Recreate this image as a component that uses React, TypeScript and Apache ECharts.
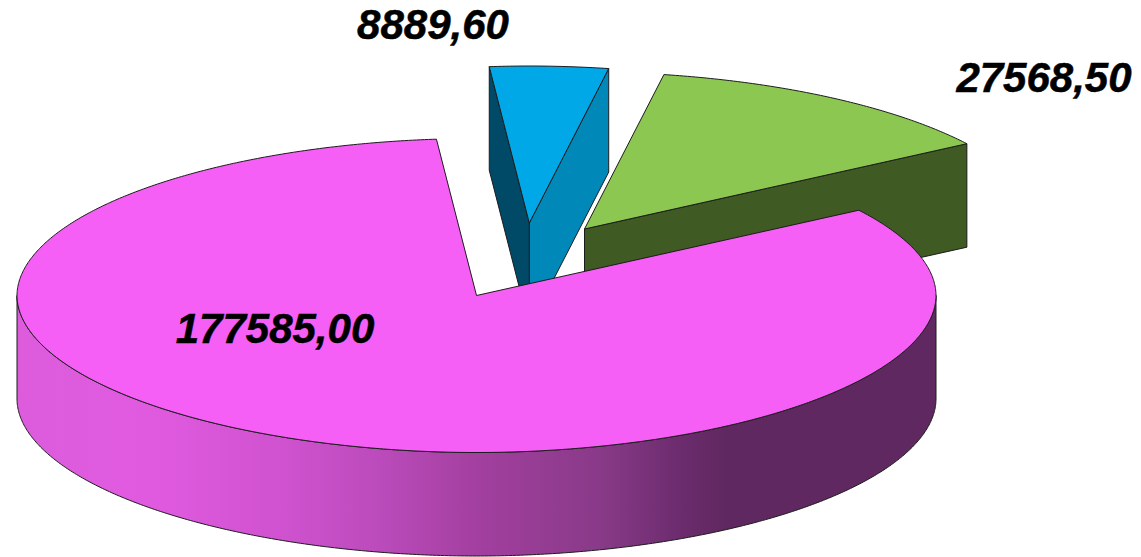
import React, { useEffect, useRef } from "react";
import * as echarts from "echarts";

const sliceValues = [8889.6, 27568.5, 177585.0];
const sliceLabels = ["8889,60", "27568,50", "177585,00"];
const topColors = ["#00a8e8", "#8bc751", "#f55ff5"];
const leftWallColors = ["#004a68", "", ""];
const rightWallColors = ["#0088b9", "#3f5a22", ""];
const tips = [[529.3, 223], [584.5, 229], [476.5, 295.5]];
const labelCentres = [[433, 24], [1044, 77], [275, 328]];

const RX = 459.5;
const RY = 157;
const DEPTH = 103.5;
const ROUNDNESS = 1.96;
const START_ANGLE = -5;
const EDGE = { stroke: "#1c1c1c", lineWidth: 1, lineJoin: "round" as const };

const total = sliceValues.reduce((a, b) => a + b, 0);

function rimPoint(tip: number[], deg: number, drop = 0): number[] {
  const r = (deg * Math.PI) / 180;
  const s = Math.sin(r);
  const side = Math.cos(r) >= 0 ? -1 : 1;
  const h = Math.pow(Math.max(0, 1 - Math.pow(Math.abs(s), ROUNDNESS)), 1 / ROUNDNESS);
  return [tip[0] + RX * s, tip[1] + side * RY * h + drop];
}

function arcPoints(tip: number[], from: number, to: number, drop = 0): number[][] {
  const steps = Math.max(2, Math.ceil(Math.abs(to - from) * 2));
  const out: number[][] = [];
  for (let i = 0; i <= steps; i++) out.push(rimPoint(tip, from + ((to - from) * i) / steps, drop));
  return out;
}

function poly(points: number[][], style: any) {
  return { type: "polygon", shape: { points }, style: { ...EDGE, ...style } };
}

function renderSlice(params: any, api: any) {
  const i: number = params.dataIndex;
  const tip = tips[i];
  let a0 = START_ANGLE;
  for (let k = 0; k < i; k++) a0 += (sliceValues[k] / total) * 360;
  const a1 = a0 + (api.value(0) / total) * 360;
  const children: any[] = [];
  const p0 = rimPoint(tip, a0);
  const p1 = rimPoint(tip, a1);
  const below = (p: number[]) => [p[0], p[1] + DEPTH];

  if (rightWallColors[i]) {
    children.push(poly([tip, p1, below(p1), below(tip)], { fill: rightWallColors[i] }));
  }
  if (leftWallColors[i]) {
    children.push(poly([tip, p0, below(p0), below(tip)], { fill: leftWallColors[i] }));
  }
  if (a1 > 90 && a0 < 270) {
    const from = Math.max(a0, 90);
    const to = Math.min(a1, 270);
    const w = 2 * RX;
    const stop = (x: number) => (x - (tip[0] - RX)) / w;
    children.push(
      poly([...arcPoints(tip, from, to), ...arcPoints(tip, to, from, DEPTH)], {
        fill: new echarts.graphic.LinearGradient(1, 0, 0, 0, [
          { offset: 0, color: "#602860" },
          { offset: 1 - stop(725), color: "#602860" },
          { offset: 1 - stop(680), color: "#6c2c6e" },
          { offset: 1 - stop(600), color: "#893a88" },
          { offset: 1 - stop(480), color: "#a23f9f" },
          { offset: 1 - stop(380), color: "#bb4bbb" },
          { offset: 1 - stop(280), color: "#d052d0" },
          { offset: 1 - stop(150), color: "#e05ae0" },
          { offset: 1, color: "#dc5cdc" },
        ]),
      })
    );
  }
  children.push(poly([tip, ...arcPoints(tip, a0, a1)], { fill: topColors[i] }));
  children.push({
    type: "text",
    style: {
      text: sliceLabels[i],
      x: labelCentres[i][0],
      y: labelCentres[i][1],
      align: "center",
      verticalAlign: "middle",
      fill: "#000000",
      stroke: "#000000",
      lineWidth: 0.5,
      font: 'italic bold 42px "Liberation Sans", Arial, sans-serif',
    },
  });
  return { type: "group", children };
}

export default function App() {
  const ref = useRef<HTMLDivElement>(null);
  useEffect(() => {
    document.body.style.margin = "0";
    const chart = echarts.init(ref.current!, null, { renderer: "svg" });
    chart.setOption({
      animation: false,
      backgroundColor: "#ffffff",
      series: [
        {
          type: "custom",
          coordinateSystem: "none",
          silent: true,
          renderItem: renderSlice,
          data: sliceValues.map((v) => [v]),
        },
      ],
    });
    return () => chart.dispose();
  }, []);
  return <div ref={ref} style={{ position: "fixed", left: 0, top: 0, width: 1141, height: 557 }} />;
}
